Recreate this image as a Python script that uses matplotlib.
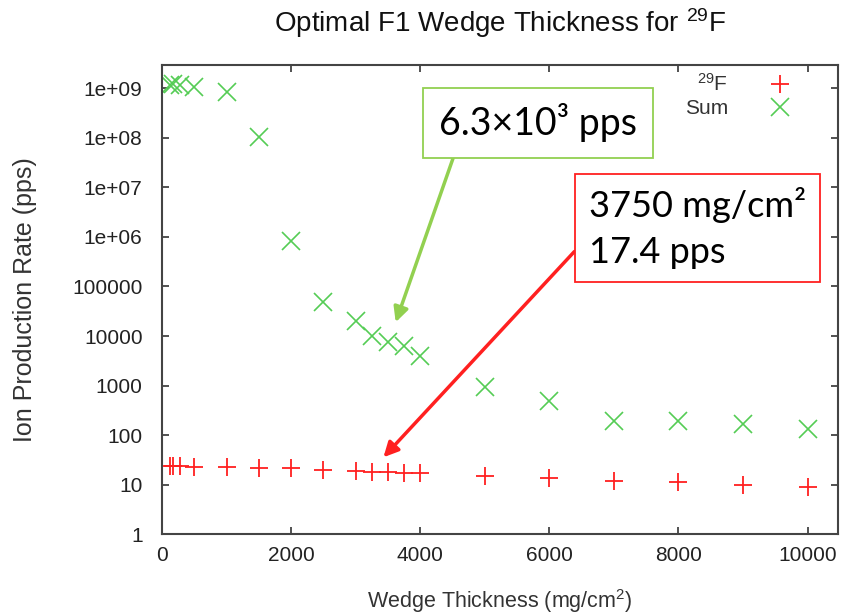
import matplotlib
matplotlib.use("Agg")
import matplotlib.pyplot as plt
from matplotlib.ticker import FixedLocator, FixedFormatter

plt.rcParams['font.family'] = ['Liberation Sans', 'DejaVu Sans']
plt.rcParams['mathtext.fontset'] = 'custom'
plt.rcParams['mathtext.rm'] = 'Liberation Sans'
plt.rcParams['mathtext.it'] = 'Liberation Sans'

# wedge thickness (mg/cm^2)
thickness = [125, 175, 275, 500, 1000, 1500, 2000, 2500, 3000, 3250, 3500,
             3750, 4000, 5000, 6000, 7000, 8000, 9000, 10000]
# 29F rate (pps)
rate_f29 = [24, 24, 24, 23, 23, 21.8, 21.6, 19.8, 19.1, 18.5, 18.0,
            17.4, 17.0, 15.4, 13.7, 12.1, 11.2, 9.9, 9.0]
# sum of all fragments (pps)
rate_sum = [1.15e9, 1.2e9, 1.15e9, 1.05e9, 8.3e8, 1.05e8, 8.3e5, 4.8e4, 2.0e4,
            1.0e4, 7.6e3, 6.3e3, 3.9e3, 950, 480, 190, 190, 170, 132]

ytick_vals = [1, 10, 100, 1000, 10000, 100000, 1e6, 1e7, 1e8, 1e9]
ytick_labels = ['1', '10', '100', '1000', '10000', '100000',
                '1e+06', '1e+07', '1e+08', '1e+09']
xtick_vals = [0, 2000, 4000, 6000, 8000, 10000]

red = '#ff2020'
green = '#55cc55'
box_green = '#92d050'

fig = plt.figure(figsize=(8.41, 6.14), dpi=100)
ax = fig.add_axes([0.1926, 0.1295, 0.8038, 0.7645])

ax.plot(thickness, rate_f29, ls='none', marker='+', ms=13, mew=1.3, color=red,
        label=r'$^{29}$F')
ax.plot(thickness, rate_sum, ls='none', marker='x', ms=13, mew=1.2, color=green,
        label='Sum')

ax.set_yscale('log')
ax.set_xlim(0, 10470)
ax.set_ylim(1, 2.9e9)
ax.yaxis.set_major_locator(FixedLocator(ytick_vals))
ax.yaxis.set_major_formatter(FixedFormatter(ytick_labels))
ax.yaxis.set_minor_locator(FixedLocator([]))
ax.set_xticks(xtick_vals)
ax.tick_params(which='both', direction='in', top=True, right=True, length=5,
               width=1.2, color='#333333', labelsize=15, labelcolor='#222222',
               pad=8)
ax.tick_params(axis='y', pad=14)
for s in ax.spines.values():
    s.set_color('#444444')
    s.set_linewidth(1.5)

ax.set_title(r'Optimal F1 Wedge Thickness for $^{29}$F', fontsize=20, pad=24,
             color='#111111')
ax.set_xlabel(r'Wedge Thickness (mg/cm$^2$)', fontsize=15.5, color='#333333',
              labelpad=16)
ax.set_ylabel('Ion Production Rate (pps)', fontsize=18, color='#333333',
              labelpad=25)

leg = ax.legend(loc='upper right', bbox_to_anchor=(0.955, 1.005), frameon=False,
                markerfirst=False, fontsize=15, handlelength=1.6,
                handletextpad=1.7, labelspacing=0.2, borderaxespad=0.1)
for t in leg.get_texts():
    t.set_color('#333333')

ax.annotate('6.3×10³ pps', xy=(3620, 1.9e4), xycoords='data',
            xytext=(0.556, 0.877), textcoords='axes fraction',
            ha='center', va='center', fontsize=27, family='Lato',
            bbox=dict(boxstyle='square,pad=0.42', fc='white', ec=box_green, lw=1.3),
            arrowprops=dict(arrowstyle='-|>', color=box_green, lw=2.5,
                            mutation_scale=22, relpos=(0.1, 0.0),
                            shrinkA=0, shrinkB=0))
ax.annotate('3750 mg/cm²\n17.4 pps', xy=(3430, 36), xycoords='data',
            xytext=(0.792, 0.653), textcoords='axes fraction',
            ha='center', va='center', fontsize=26, family='Lato',
            linespacing=1.45, multialignment='left',
            bbox=dict(boxstyle='square,pad=0.38', fc='white', ec=red, lw=1.3),
            arrowprops=dict(arrowstyle='-|>', color=red, lw=2.5,
                            mutation_scale=22, relpos=(0.0, 0.4),
                            shrinkA=0, shrinkB=0))

fig.savefig('out.png', dpi=100)
